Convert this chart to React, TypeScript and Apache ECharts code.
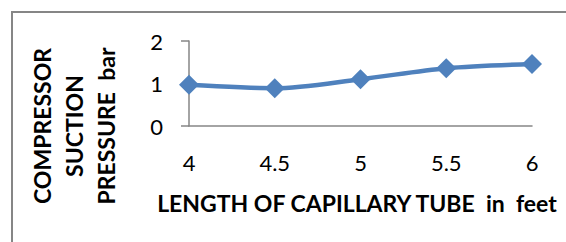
import React, { useEffect, useRef } from "react";
import * as echarts from "echarts";

const categories = ["4", "4.5", "5", "5.5", "6"];
const pressure = [0.97, 0.89, 1.1, 1.36, 1.46];
const yTicks = { min: 0, max: 2, interval: 1 };
const xTitle = "LENGTH OF CAPILLARY TUBE  in  feet";
const yTitle = "COMPRESSOR\nSUCTION\nPRESSURE  bar";

export default function App() {
  const ref = useRef<HTMLDivElement>(null);
  useEffect(() => {
    const chart = echarts.init(ref.current!, null, { renderer: "svg" });
    const font = "Lato, 'Open Sans', sans-serif";
    chart.setOption({
      animation: false,
      backgroundColor: "#ffffff",
      grid: {
        left: 189,
        right: 34,
        top: 41,
        bottom: 116,
        containLabel: false,
        outerBoundsMode: "none",
      },
      graphic: [
        {
          type: "rect",
          shape: { x: 12, y: 12, width: 600, height: 300 },
          style: { fill: "none", stroke: "#868686", lineWidth: 2 },
          silent: true,
        },
        {
          type: "text",
          x: 74,
          y: 126,
          rotation: Math.PI / 2,
          style: {
            text: yTitle,
            font: `bold 23px ${font}`,
            fill: "#000",
            align: "center",
            verticalAlign: "middle",
            lineHeight: 32,
          },
        },
        {
          type: "text",
          x: 357,
          y: 203,
          style: {
            text: xTitle,
            font: `bold 23px ${font}`,
            fill: "#000",
            align: "center",
            verticalAlign: "middle",
          },
        },
      ],
      xAxis: {
        type: "category",
        data: categories,
        boundaryGap: false,
        axisLine: { lineStyle: { color: "#868686", width: 1.5 } },
        axisTick: { show: false },
        axisLabel: { color: "#000", fontSize: 22, fontFamily: font, margin: 25 },
      },
      yAxis: {
        type: "value",
        min: yTicks.min,
        max: yTicks.max,
        interval: yTicks.interval,
        splitLine: { show: false },
        axisLine: { show: true, lineStyle: { color: "#868686", width: 1.5 } },
        axisTick: { show: true, length: 8, lineStyle: { color: "#868686", width: 1.5 } },
        axisLabel: { color: "#000", fontSize: 22, fontFamily: font, margin: 26 },
      },
      series: [
        {
          type: "line",
          data: pressure,
          smooth: 0.3,
          symbol: "diamond",
          symbolSize: 20,
          lineStyle: { color: "#4F81BD", width: 4.5 },
          itemStyle: { color: "#4F81BD" },
        },
      ],
    });
    return () => chart.dispose();
  }, []);
  return <div ref={ref} style={{ width: 566, height: 242, position: "absolute", left: 0, top: 0 }} />;
}
